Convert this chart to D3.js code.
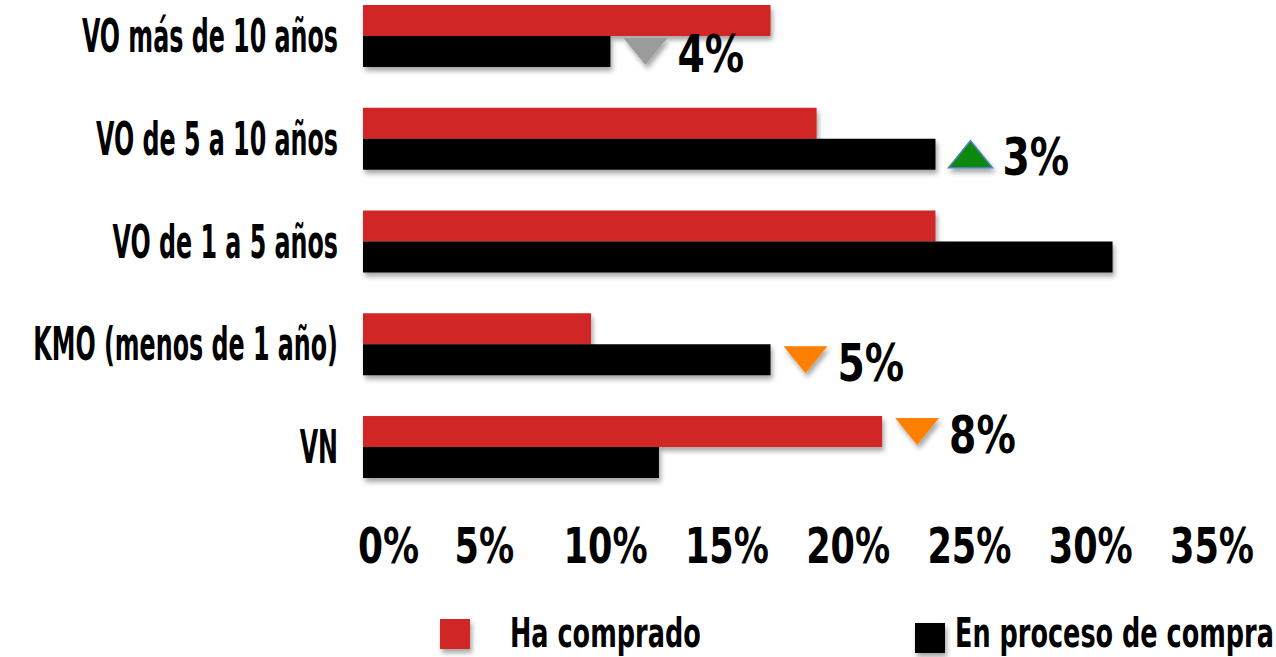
<!DOCTYPE html>
<html>
<head>
<meta charset="utf-8">
<script src="https://cdn.jsdelivr.net/npm/d3@7"></script>
<style>
  body { margin: 0; background: #fff; }
  text { font-family: "DejaVu Sans Condensed", "DejaVu Sans", sans-serif; font-weight: bold; fill: #000; }
</style>
</head>
<body>
<svg width="1276" height="657"></svg>
<script>
// data
var categories = ["VO más de 10 años", "VO de 5 a 10 años", "VO de 1 a 5 años", "KMO (menos de 1 año)", "VN"];
var seriesNames = ["Ha comprado", "En proceso de compra"];
var haComprado = [0.168, 0.187, 0.236, 0.094, 0.214];
var enProceso = [0.102, 0.236, 0.309, 0.168, 0.122];
var ticks = [0, 0.05, 0.10, 0.15, 0.20, 0.25, 0.30, 0.35];

// change markers next to some categories (series index = bar they follow)
var changeCats = ["VO más de 10 años", "VO de 5 a 10 años", "KMO (menos de 1 año)", "VN"];
var changeSeries = [1, 1, 1, 0];
var changeLabels = ["4%", "3%", "5%", "8%"];
var changeDir = ["down", "up", "down", "down"];
var changeColor = ["#9b9b9b", "#0a8a0a", "#ff8000", "#ff8000"];

var colors = ["#d12526", "#000000"];

var svg = d3.select("svg"),
    width = +svg.attr("width"),
    height = +svg.attr("height");

// drop shadow like the office chart
var defs = svg.append("defs");
defs.append("filter")
    .attr("id", "shadow")
    .attr("x", "-10%").attr("y", "-20%")
    .attr("width", "130%").attr("height", "160%")
    .append("feDropShadow")
    .attr("dx", 2).attr("dy", 4)
    .attr("stdDeviation", 2.5)
    .attr("flood-color", "#000")
    .attr("flood-opacity", 0.35);

var x = d3.scaleLinear()
    .domain([0, 0.35])
    .range([363, 1212]);

var y = d3.scaleBand()
    .domain(categories)
    .range([5, 478])
    .paddingInner(0.397)
    .paddingOuter(0);

var ySeries = d3.scaleBand()
    .domain(seriesNames)
    .range([0, y.bandwidth()]);

var rows = categories.map(function (c, i) {
    return {cat: c, values: [haComprado[i], enProceso[i]]};
});

// bars
var groups = svg.append("g")
    .selectAll("g")
    .data(rows)
    .enter()
    .append("g")
    .attr("transform", function (d) { return "translate(0," + y(d.cat) + ")"; });

groups.selectAll("rect")
    .data(function (d) { return d.values.map(function (v, j) { return {name: seriesNames[j], v: v, j: j}; }); })
    .enter()
    .append("rect")
    .attr("x", x(0))
    .attr("y", function (d) { return ySeries(d.name); })
    .attr("width", function (d) { return x(d.v) - x(0); })
    .attr("height", ySeries.bandwidth())
    .attr("fill", function (d) { return colors[d.j]; })
    .attr("filter", "url(#shadow)");

// condensed text helper
function label(sel, px, py, str, size, sx, anchor) {
    sel.append("g")
        .attr("transform", "translate(" + px + "," + py + ")")
        .append("text")
        .attr("transform", "scale(" + sx + ",1)")
        .attr("text-anchor", anchor)
        .style("font-size", size + "px")
        .text(str);
}

// category labels
var catG = svg.append("g");
categories.forEach(function (c) {
    label(catG, 338, y(c) + y.bandwidth() / 2 + 16, c, 46, 0.575, "end");
});

// axis tick labels
var axisG = svg.append("g");
ticks.forEach(function (t, i) {
    var fmt = d3.format(".0%")(t);
    if (i === 0) label(axisG, x(t) - 5, 563, fmt, 50, 0.8, "start");
    else label(axisG, x(t), 563, fmt, 50, 0.78, "middle");
});

// change markers
var triW = 44, triH = 27;
var markG = svg.append("g");
changeCats.forEach(function (c, i) {
    var k = categories.indexOf(c);
    var s = changeSeries[i];
    var v = s === 0 ? haComprado[k] : enProceso[k];
    var cx = x(v) + 13 + triW / 2;
    var cy = y(c) + ySeries(seriesNames[s]) + ySeries.bandwidth() / 2;
    var pts = changeDir[i] === "down"
        ? [[cx - triW / 2, cy - triH / 2], [cx + triW / 2, cy - triH / 2], [cx, cy + triH / 2]]
        : [[cx - triW / 2, cy + triH / 2], [cx + triW / 2, cy + triH / 2], [cx, cy - triH / 2]];
    markG.append("path")
        .attr("d", d3.line()(pts) + "Z")
        .attr("fill", changeColor[i])
        .attr("stroke", changeDir[i] === "up" ? "#4f81bd" : "none")
        .attr("stroke-width", 1.5)
        .attr("filter", "url(#shadow)");
    label(markG, cx + triW / 2 + 10, cy + 21, changeLabels[i], 52, 0.84, "start");
});

// legend
var legG = svg.append("g");
legG.append("rect")
    .attr("x", 440).attr("y", 619)
    .attr("width", 30).attr("height", 30)
    .attr("fill", colors[0])
    .attr("filter", "url(#shadow)");
label(legG, 510, 647, seriesNames[0], 40, 0.71, "start");
legG.append("rect")
    .attr("x", 915).attr("y", 623)
    .attr("width", 30).attr("height", 30)
    .attr("fill", colors[1])
    .attr("filter", "url(#shadow)");
label(legG, 955, 647, seriesNames[1], 40, 0.71, "start");
</script>
</body>
</html>
